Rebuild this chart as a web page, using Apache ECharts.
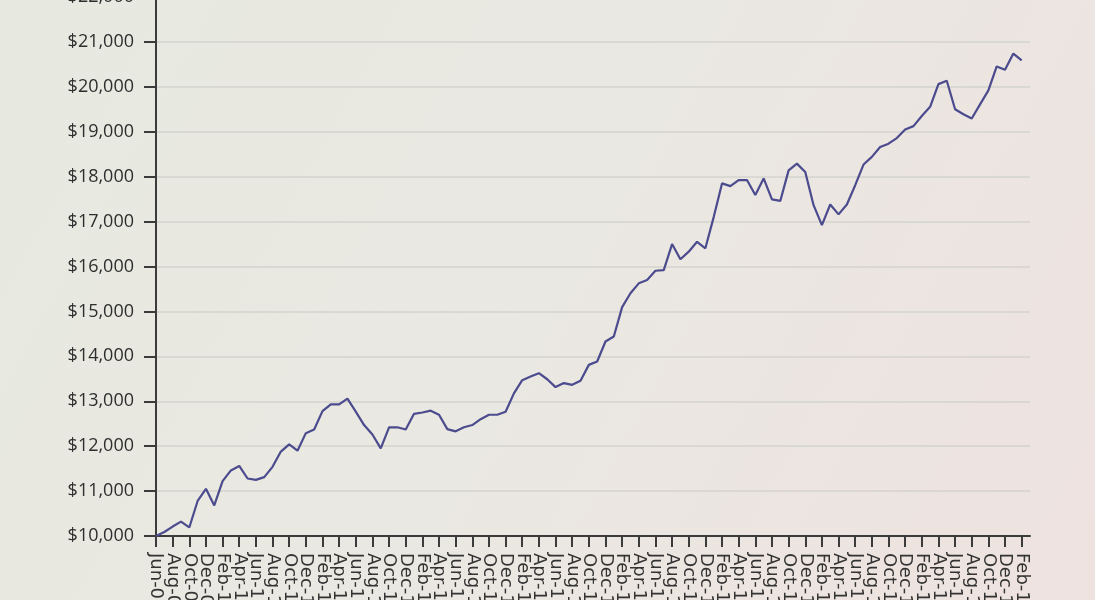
<!DOCTYPE html>
<html>
<head>
<meta charset="utf-8">
<script src="https://cdn.jsdelivr.net/npm/echarts@6/dist/echarts.min.js"></script>
<style>
html,body{margin:0;padding:0;}
#chart{width:1095px;height:600px;}
</style>
</head>
<body>
<div id="chart"></div>
<script>
// Month labels, Jun-09 through Feb-18
const months = ['Jan','Feb','Mar','Apr','May','Jun','Jul','Aug','Sep','Oct','Nov','Dec'];
const categories = [];
for (let k = 0; k < 105; k++) {
  const m = (5 + k) % 12;
  const y = 9 + Math.floor((5 + k) / 12);
  categories.push(months[m] + '-' + String(y).padStart(2, '0'));
}
categories.push(''); // axis runs a little past the last point

const portfolioValues = [
  10000, 10090, 10210, 10320, 10190, 10780, 11050, 10680, 11220, 11460,
  11560, 11280, 11250, 11310, 11540, 11880, 12040, 11900, 12290, 12370,
  12780, 12930, 12930, 13060, 12770, 12470, 12260, 11950, 12420, 12420,
  12370, 12720, 12750, 12790, 12700, 12380, 12330, 12420, 12470, 12600,
  12700, 12700, 12765, 13175, 13470, 13550, 13625, 13490, 13315, 13405,
  13365, 13455, 13810, 13885, 14330, 14440, 15095, 15405, 15625, 15700,
  15905, 15920, 16500, 16160, 16330, 16550, 16405, 17100, 17850, 17790,
  17925, 17925, 17590, 17960, 17495, 17460, 18140, 18290, 18105, 17365,
  16920, 17380, 17160, 17380, 17810, 18270, 18440, 18660, 18735, 18860,
  19050, 19125, 19350, 19555, 20060, 20135, 19500, 19390, 19295, 19610,
  19920, 20455, 20380, 20740, 20590
];

const yMin = 10000, yMax = 22000, yStep = 1000;

const chart = echarts.init(document.getElementById('chart'));
chart.setOption({
  backgroundColor: new echarts.graphic.LinearGradient(0, 0, 1, 1, [
    {offset: 0, color: '#e7e9e0'},
    {offset: 0.5, color: '#eae8e2'},
    {offset: 1, color: '#eee2df'}
  ]),
  animation: false,
  grid: {left: 156, right: 65, top: -3, bottom: 64, containLabel: false, outerBoundsMode: 'none'},
  xAxis: {
    type: 'category',
    data: categories,
    boundaryGap: false,
    axisLine: {show: true, lineStyle: {color: '#3b3b3b', width: 2}},
    axisTick: {show: true, interval: function (i) { return i % 2 === 0 && i < 105; }, length: 11, lineStyle: {color: '#3b3b3b', width: 2}},
    axisLabel: {
      interval: 0,
      formatter: function (v, i) { return i % 2 === 0 ? v : ''; },
      showMinLabel: true, showMaxLabel: false,
      rotate: -90, margin: 17, hideOverlap: false,
      fontFamily: 'DejaVu Sans', fontSize: 18, color: '#333333'
    },
    splitLine: {show: false}
  },
  yAxis: {
    type: 'value',
    min: yMin, max: yMax, interval: yStep,
    axisLine: {show: true, lineStyle: {color: '#3b3b3b', width: 2}},
    axisTick: {show: true, length: 12, lineStyle: {color: '#3b3b3b', width: 2}},
    axisLabel: {
      margin: 22, hideOverlap: false, showMinLabel: true, showMaxLabel: true,
      fontFamily: 'Open Sans', fontSize: 18, color: '#2e2e2e',
      formatter: function (v) { return '$' + v.toLocaleString('en-US'); }
    },
    splitLine: {show: true, lineStyle: {color: '#d3d3cd', width: 1.5}}
  },
  series: [{
    type: 'line',
    data: portfolioValues,
    showSymbol: false,
    symbol: 'none',
    lineStyle: {color: '#4b4b8e', width: 2.2},
    clip: false
  }]
});
</script>
</body>
</html>
